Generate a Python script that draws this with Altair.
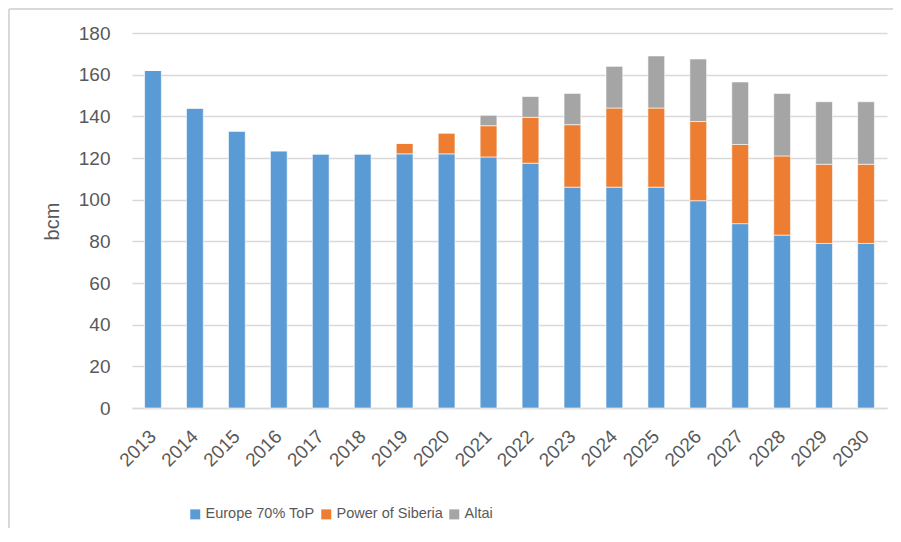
import altair as alt
import pandas as pd

years = [str(y) for y in range(2013, 2031)]
europe = [162, 144, 133, 123.5, 122, 122, 122, 122, 120.5, 117.5, 106, 106, 106, 99.5, 88.5, 83, 79, 79]
siberia = [0, 0, 0, 0, 0, 0, 5, 10, 15, 22, 30, 38, 38, 38, 38, 38, 38, 38]
altai = [0, 0, 0, 0, 0, 0, 0, 0, 5, 10, 15, 20, 25, 30, 30, 30, 30, 30]
series = ["Europe 70% ToP", "Power of Siberia", "Altai"]
colors = ["#5B9BD5", "#ED7D31", "#A5A5A5"]

rows = []
for i, y in enumerate(years):
    for k, (name, vals) in enumerate(zip(series, [europe, siberia, altai])):
        rows.append({"year": y, "series": name, "value": vals[i], "order": k})
df = pd.DataFrame(rows)

FONT = "Liberation Sans"
GREY = "#595959"

bars = alt.Chart(df).mark_bar(stroke="white", strokeWidth=0.6).encode(
    x=alt.X("year:N", title=None, sort=years,
            scale=alt.Scale(paddingInner=0.6, paddingOuter=0.3),
            axis=alt.Axis(labelAngle=-45, labelAlign="right", labelBaseline="middle",
                          labelPadding=25, ticks=False, domainColor="#D9D9D9",
                          domainWidth=1.5, labelFontSize=19, labelColor=GREY,
                          labelFont=FONT, grid=False)),
    y=alt.Y("value:Q", title="bcm", stack="zero",
            scale=alt.Scale(domain=[0, 180]),
            axis=alt.Axis(values=list(range(0, 181, 20)), ticks=False, domain=False,
                          gridColor="#D9D9D9", gridWidth=1.5, labelFontSize=19,
                          labelColor=GREY, labelFont=FONT, labelPadding=22,
                          titleFont=FONT, titleFontSize=20, titleColor=GREY,
                          titleFontWeight="normal", titleX=-70, titleY=188)),
    color=alt.Color("series:N", sort=series,
                    scale=alt.Scale(domain=series, range=colors),
                    legend=alt.Legend(title=None, orient="none", direction="horizontal",
                                      legendX=56, legendY=474, symbolType="square",
                                      symbolSize=100, symbolStrokeWidth=0,
                                      labelFontSize=14.5, labelColor=GREY, labelFont=FONT,
                                      columnPadding=4, labelOffset=3)),
    order=alt.Order("order:Q"),
)

frame_left = alt.Chart(pd.DataFrame({"v": [0]})).mark_rule(color="#D9D9D9", strokeWidth=2).encode(
    x=alt.value(-123), y=alt.value(-24), y2=alt.value(500))
frame_top = alt.Chart(pd.DataFrame({"v": [0]})).mark_rule(color="#D9D9D9", strokeWidth=2).encode(
    x=alt.value(-123), x2=alt.value(770), y=alt.value(-24))

chart = alt.layer(bars, frame_left, frame_top).properties(
    width=755, height=375,
    autosize=alt.AutoSizeParams(type="none"),
    padding={"left": 124, "top": 25, "right": 6, "bottom": 120},
).configure_view(stroke=None)

chart.save("out.html", embed_options={"renderer": "svg", "actions": False})
